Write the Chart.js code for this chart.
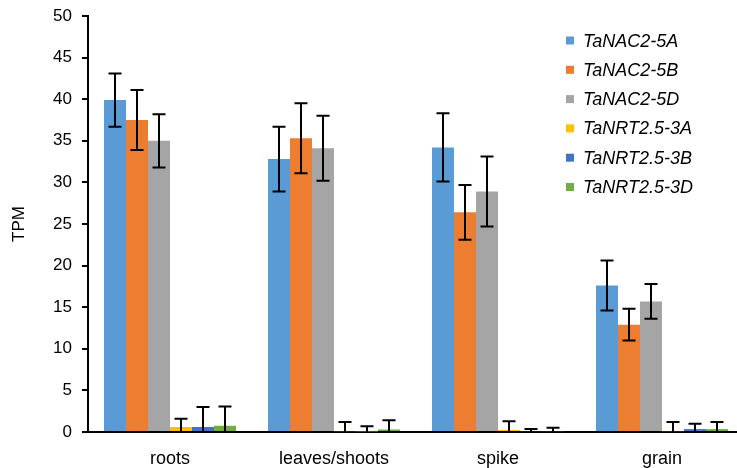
<!DOCTYPE html>
<html>
<head>
<meta charset="utf-8">
<script src="https://cdn.jsdelivr.net/npm/chart.js@4.4.1/dist/chart.umd.min.js"></script>
<style>
  html, body { margin: 0; padding: 0; background: #fff; overflow: hidden; }
  #wrap { width: 737px; height: 468px; overflow: hidden; }
  #box { width: 750px; height: 468px; }
</style>
</head>
<body>
<div id="wrap"><div id="box"><canvas id="chart"></canvas></div></div>
<script>
// Data
const categories = ['roots', 'leaves/shoots', 'spike', 'grain'];
const seriesNames = ['TaNAC2-5A', 'TaNAC2-5B', 'TaNAC2-5D', 'TaNRT2.5-3A', 'TaNRT2.5-3B', 'TaNRT2.5-3D'];
const nac5A = [39.9, 32.8, 34.2, 17.6];
const nac5B = [37.5, 35.3, 26.4, 12.9];
const nac5D = [35.0, 34.1, 28.9, 15.7];
const nrt3A = [0.6, 0.1, 0.25, 0.1];
const nrt3B = [0.6, 0.05, 0.1, 0.35];
const nrt3D = [0.75, 0.3, 0.1, 0.35];
const err5A = [3.2, 3.9, 4.1, 3.0];
const err5B = [3.6, 4.2, 3.3, 1.9];
const err5D = [3.2, 3.9, 4.2, 2.1];
const err3A = [1.0, 1.1, 1.05, 1.1];
const err3B = [2.4, 0.65, 0.25, 0.65];
const err3D = [2.3, 1.1, 0.4, 0.85];
const yTicks = [0, 5, 10, 15, 20, 25, 30, 35, 40, 45, 50];

const seriesValues = [nac5A, nac5B, nac5D, nrt3A, nrt3B, nrt3D];
const seriesErrors = [err5A, err5B, err5D, err3A, err3B, err3D];
const colors = ['#5B9BD5', '#ED7D31', '#A5A5A5', '#FFC000', '#4472C4', '#70AD47'];

const FONT = '"Liberation Sans", Arial, sans-serif';

// error bars drawn from the errors arrays through the y scale
const errorBars = {
    id: 'errorBars',
    afterDatasetsDraw(chart) {
        const ctx = chart.ctx;
        const y = chart.scales.y;
        const area = chart.chartArea;
        ctx.save();
        ctx.beginPath();
        ctx.rect(area.left, area.top - 5, area.right - area.left, area.bottom - area.top + 5);
        ctx.clip();
        ctx.strokeStyle = '#000';
        ctx.lineWidth = 2;
        chart.data.datasets.forEach((ds, i) => {
            const meta = chart.getDatasetMeta(i);
            meta.data.forEach((bar, j) => {
                const v = ds.data[j];
                const e = seriesErrors[i][j];
                const top = y.getPixelForValue(v + e);
                const bot = y.getPixelForValue(v - e);
                const x = Math.round(bar.x);
                ctx.beginPath();
                ctx.moveTo(x, top);
                ctx.lineTo(x, bot);
                ctx.moveTo(x - 6.5, top);
                ctx.lineTo(x + 6.5, top);
                ctx.moveTo(x - 6.5, bot);
                ctx.lineTo(x + 6.5, bot);
                ctx.stroke();
            });
        });
        ctx.restore();
    }
};

// legend inside the plot, top right
const insideLegend = {
    id: 'insideLegend',
    afterDraw(chart) {
        const ctx = chart.ctx;
        ctx.save();
        ctx.font = 'italic 18px ' + FONT;
        ctx.textBaseline = 'middle';
        chart.data.datasets.forEach((ds, i) => {
            const cy = 40.5 + i * 29.3;
            ctx.fillStyle = ds.backgroundColor;
            ctx.fillRect(566, cy - 4, 8, 8);
            ctx.fillStyle = '#000';
            ctx.fillText(ds.label, 583, cy + 1);
        });
        ctx.restore();
    }
};

const ctx = document.getElementById('chart').getContext('2d');
new Chart(ctx, {
    type: 'bar',
    data: {
        labels: categories,
        datasets: seriesNames.map((name, i) => ({
            label: name,
            data: seriesValues[i],
            backgroundColor: colors[i],
            borderWidth: 0,
            barPercentage: 1,
            categoryPercentage: 0.805
        }))
    },
    options: {
        responsive: true,
        maintainAspectRatio: false,
        animation: false,
        layout: { padding: { left: 0, right: 6, top: 16, bottom: 0 } },
        plugins: {
            legend: { display: false },
            tooltip: { enabled: false }
        },
        scales: {
            x: {
                grid: { display: false },
                border: { display: true, color: '#000', width: 2 },
                ticks: { color: '#000', font: { family: FONT, size: 18 }, padding: 8, maxRotation: 0 },
                afterFit(scale) { scale.height = 36; scale.paddingLeft = 0; scale.paddingRight = 0; }
            },
            y: {
                min: 0,
                max: 50,
                afterBuildTicks(scale) { scale.ticks = yTicks.map(v => ({ value: v })); },
                grid: { display: true, drawOnChartArea: false, tickLength: 6, color: '#000', lineWidth: 2 },
                border: { display: true, color: '#000', width: 2 },
                ticks: { color: '#000', font: { family: FONT, size: 17 }, padding: 10 },
                title: { display: true, text: 'TPM', color: '#000', font: { family: FONT, size: 17 }, padding: { top: 9, bottom: 0 } },
                afterFit(scale) { scale.width = 88; scale.paddingTop = 0; scale.paddingBottom = 0; }
            }
        }
    },
    plugins: [errorBars, insideLegend]
});
</script>
</body>
</html>
